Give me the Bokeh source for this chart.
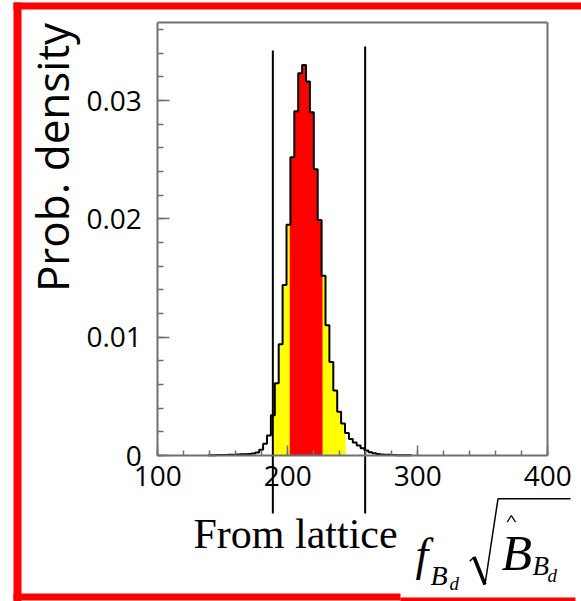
import numpy as np
from bokeh.plotting import figure
from bokeh.models import LinearAxis, FixedTicker, Range1d
from bokeh.embed import file_html
from bokeh.resources import INLINE
from bokeh.core.properties import value

# ---------------- data ----------------
bin_start = 139.0
bin_width = 3.0
density = [0.00003, 0.00003, 0.00004, 0.00004, 0.00005, 0.00006, 0.00007, 0.00008,
           0.00010, 0.00011, 0.00013, 0.00016, 0.00025, 0.00048, 0.00099, 0.0017,
           0.0034, 0.0061, 0.0094, 0.0144, 0.0195, 0.0252, 0.0291, 0.0323,
           0.0330, 0.0316, 0.0290, 0.0242, 0.0199, 0.0152, 0.0110, 0.0079,
           0.0055, 0.0037, 0.0027, 0.0019, 0.0014, 0.0011, 0.00085, 0.00062,
           0.00042, 0.00028, 0.00020, 0.00012, 0.00008, 0.00007, 0.00006, 0.00004,
           0.00003, 0.00003, 0.00002, 0.00002]
outer_band = [189.3, 244.5]   # yellow
inner_band = [201.5, 226.7]   # red
lattice_range = [188.5, 259.5]
x_ticks = [100, 200, 300, 400]
x_minor = [100, 120, 140, 160, 180, 200, 220, 240, 260, 280, 300, 320, 340, 360, 380, 400]
y_ticks = [0.0, 0.01, 0.02, 0.03]
y_tick_labels = ["0", "0.01", "0.02", "0.03"]
y_minor = [0.002 * i for i in range(19)]
x_min, x_max = 100, 400
y_top = 0.0366

# ---------------- geometry ----------------
W, H = 581, 601
PX_X = 1.3          # px per x unit
PX_Y = 11833.0      # px per y unit
X0C = 157.3         # canvas px of x=100
Y0C = 455.0         # canvas px (from top) of y=0

x_start = x_min - X0C / PX_X
x_end = x_start + W / PX_X
y_end = Y0C / PX_Y
y_start = y_end - H / PX_Y


def X(px):  # canvas x -> data
    return x_min + (px - X0C) / PX_X


def Y(py):  # canvas y -> data
    return (Y0C - py) / PX_Y


p = figure(width=W, height=H, x_range=Range1d(x_start, x_end), y_range=Range1d(y_start, y_end),
           output_backend="svg", toolbar_location=None, x_axis_location=None, y_axis_location=None,
           min_border=0, title=None)
p.outline_line_color = None
p.background_fill_color = "white"
p.border_fill_color = "white"
for g in p.grid:
    g.visible = False

# ---------------- histogram ----------------
edges = [bin_start + bin_width * i for i in range(len(density) + 1)]
for (lo, hi), col in [(outer_band, "#ffff00"), (inner_band, "#ff0000")]:
    px_, py_ = [lo], [0.0]
    for i, v in enumerate(density):
        l, r = edges[i], edges[i + 1]
        if r > lo and l < hi:
            px_ += [max(l, lo), min(r, hi)]
            py_ += [v, v]
    px_.append(hi); py_.append(0.0)
    p.patch(px_, py_, fill_color=col, line_color=None)

sx, sy = [edges[0]], [0.0]
for i, v in enumerate(density):
    sx += [edges[i], edges[i + 1]]
    sy += [v, v]
sx.append(edges[-1]); sy.append(0.0)
p.line(sx, sy, line_color="black", line_width=2)

# lattice lines
p.segment(x0=lattice_range, y0=[Y(513)] * 2, x1=lattice_range, y1=[Y(50), Y(46)],
          line_color="black", line_width=2)

# ---------------- axes ----------------
ax_style = dict(axis_line_color="#707070", axis_line_width=2,
                major_tick_line_color="#707070", minor_tick_line_color="#707070",
                major_tick_line_width=1.5, minor_tick_line_width=1.5,
                major_tick_out=0, minor_tick_out=0,
                major_label_text_font="Open Sans", major_label_text_font_size="28px",
                major_label_text_color="black")

xax = LinearAxis(fixed_location=0, bounds=(x_min, x_max),
                 ticker=FixedTicker(ticks=x_ticks, minor_ticks=x_minor),
                 major_tick_in=10, minor_tick_in=5, major_label_standoff=10, **ax_style)
yax = LinearAxis(fixed_location=x_min, bounds=(0, y_top),
                 ticker=FixedTicker(ticks=y_ticks, minor_ticks=y_minor),
                 major_tick_in=12, minor_tick_in=6, major_label_standoff=16,
                 major_label_overrides=dict(zip(y_ticks, y_tick_labels)), **ax_style)
top_ax = LinearAxis(fixed_location=y_top, bounds=(x_min, x_max), ticker=FixedTicker(ticks=[]),
                    axis_line_color="#707070", axis_line_width=2, major_tick_line_color=None,
                    minor_tick_line_color=None, major_label_text_font_size="0px")
right_ax = LinearAxis(fixed_location=x_max, bounds=(0, y_top), ticker=FixedTicker(ticks=[]),
                      axis_line_color="#707070", axis_line_width=2, major_tick_line_color=None,
                      minor_tick_line_color=None, major_label_text_font_size="0px")
p.add_layout(xax, "below")
p.add_layout(yax, "left")
p.add_layout(top_ax, "above")
p.add_layout(right_ax, "right")

# axis title
p.text(x=[X(51)], y=[Y(157)], text=["Prob. density"], angle=np.pi / 2,
       text_align="center", text_baseline="middle", text_font=value("Open Sans"),
       text_font_size="44px", text_color="black")

# ---------------- annotations ----------------
serif = value("Liberation Serif")
K = 0.35  # baseline correction (fraction of font size)


def base(py, fs):
    return Y(py - K * fs)


p.text(x=[X(193)], y=[base(548, 42)], text=["From lattice"], text_font=serif,
       text_font_size="42px", text_baseline="alphabetic", text_color="black")

parts = [("f", 415, 570, 46), ("B", 430, 585, 28), ("d", 449, 590, 19),
         ("B", 501, 570, 50), ("B", 532, 575, 27), ("d", 547, 582, 19)]
for t, px_, py_, fs in parts:
    p.text(x=[X(px_)], y=[base(py_, fs)], text=[t], text_font=serif, text_font_style="italic",
           text_font_size=f"{fs}px", text_baseline="alphabetic", text_color="black")

# radical + hat
p.line([X(469.3), X(473.5)], [Y(560.7), Y(556.5)], line_color="black", line_width=1.5)
p.line([X(473.5), X(484.5)], [Y(556.5), Y(584)], line_color="black", line_width=3.5)
p.line([X(484.5), X(497.5), X(570)], [Y(584), Y(498.3), Y(498.3)], line_color="black", line_width=1.5)
p.line([X(506.7), X(510.8), X(515)], [Y(521.7), Y(515), Y(521.7)], line_color="black", line_width=1.3)

# red frame
p.line([X(17), X(17)], [Y(2), Y(601)], line_color="#ff0000", line_width=8)
p.line([X(13), X(581)], [Y(5.5), Y(5.5)], line_color="#ff0000", line_width=7)
p.line([X(13), X(400)], [Y(596.5), Y(596.5)], line_color="#ff0000", line_width=7)
p.line([X(400), X(575)], [Y(599), Y(599)], line_color="#ff0000", line_width=4)

open("out.html", "w").write(file_html(p, INLINE))
